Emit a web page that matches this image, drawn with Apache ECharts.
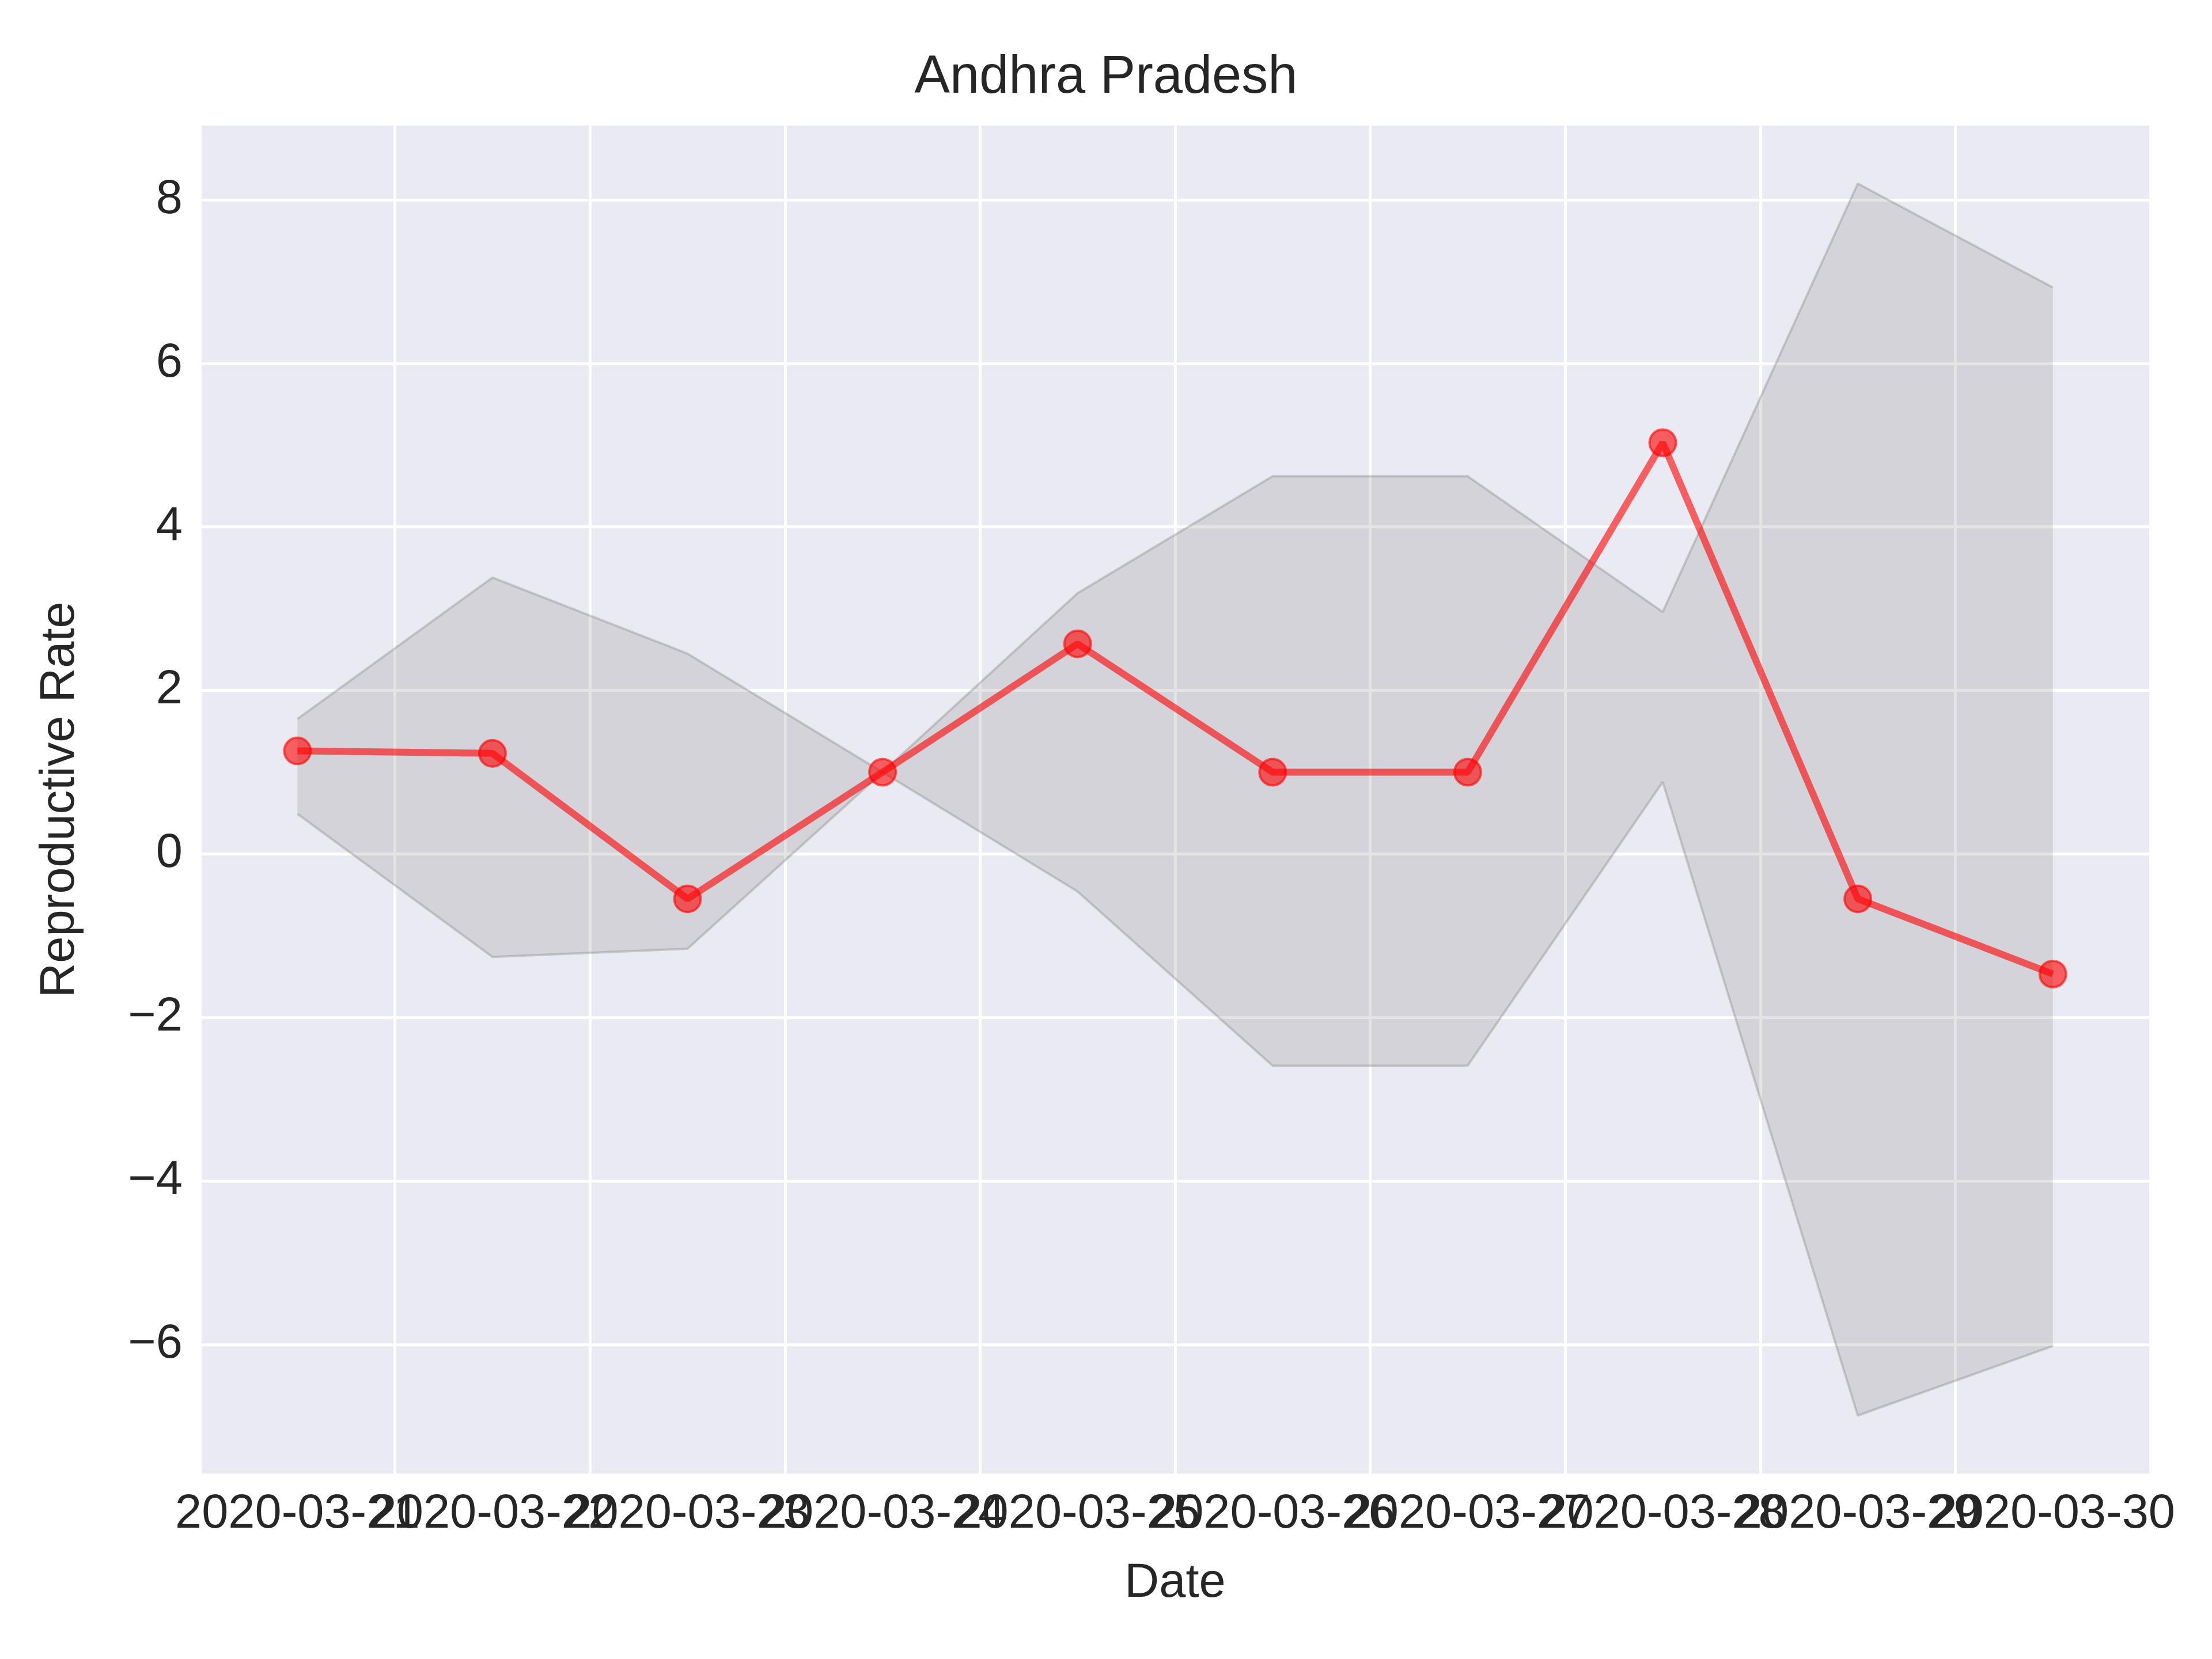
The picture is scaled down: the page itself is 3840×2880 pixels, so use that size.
<!DOCTYPE html>
<html>
<head>
<meta charset="utf-8">
<script src="https://cdn.jsdelivr.net/npm/echarts@6/dist/echarts.min.js"></script>
<style>html,body{margin:0;padding:0;background:#fff}#chart{width:3840px;height:2880px}</style>
</head>
<body>
<div id="chart"></div>
<script>
// 数据
const dates = ['2020-03-21', '2020-03-22', '2020-03-23', '2020-03-24', '2020-03-25',
    '2020-03-26', '2020-03-27', '2020-03-28', '2020-03-29', '2020-03-30'];
const rate = [1.26, 1.23, -0.55, 1.0, 2.57, 1.0, 1.0, 5.03, -0.55, -1.47];
const upper = [1.65, 3.38, 2.45, 1.0, 3.19, 4.62, 4.62, 2.96, 8.2, 6.93];
const lower = [0.49, -1.26, -1.16, 1.0, -0.46, -2.59, -2.59, 0.88, -6.87, -6.02];
const yTicks = [-6, -4, -2, 0, 2, 4, 6, 8];

const font = 'Arial, "Liberation Sans", sans-serif';
const txt = '#262626';

const chart = echarts.init(document.querySelector('#chart'));
chart.setOption({
    backgroundColor: '#fff',
    animation: false,
    title: {
        text: 'Andhra Pradesh',
        left: 'center',
        top: 85,
        textStyle: { fontSize: 92, fontWeight: 'normal', color: txt, fontFamily: font }
    },
    grid: { left: 347, right: 107, top: 218, bottom: 322, backgroundColor: '#eaeaf2', show: true, borderWidth: 0 },
    xAxis: {
        type: 'category',
        data: dates,
        boundaryGap: true,
        name: 'Date',
        nameLocation: 'middle',
        nameGap: 150,
        nameTextStyle: { fontSize: 83, color: txt, fontFamily: font },
        axisLine: { show: false },
        axisTick: { show: false, alignWithLabel: true },
        axisLabel: { interval: 0, fontSize: 83, color: txt, fontFamily: font, margin: 30 },
        splitLine: { show: true, interval: 0, lineStyle: { color: '#fff', width: 5 } }
    },
    yAxis: {
        type: 'value',
        min: -7.58,
        max: 8.91,
        name: 'Reproductive Rate',
        nameLocation: 'middle',
        nameGap: 200,
        nameTextStyle: { fontSize: 83, color: txt, fontFamily: font },
        axisLine: { show: false },
        axisTick: { show: false, customValues: yTicks },
        axisLabel: {
            customValues: yTicks,
            formatter: v => (v < 0 ? '\u2212' + Math.abs(v) : '' + v),
            fontSize: 83, color: txt, fontFamily: font, margin: 30
        },
        splitLine: { show: true, lineStyle: { color: '#fff', width: 5 } }
    },
    series: [
        {
            type: 'line',
            stack: 'band',
            stackStrategy: 'all',
            data: lower,
            symbol: 'none',
            lineStyle: { color: 'rgba(128,128,128,0.35)', width: 4 },
            z: 1
        },
        {
            type: 'line',
            stack: 'band',
            stackStrategy: 'all',
            data: upper.map((u, i) => u - lower[i]),
            symbol: 'none',
            lineStyle: { color: 'rgba(128,128,128,0.35)', width: 4 },
            areaStyle: { color: 'rgba(128,128,128,0.3)' },
            z: 1
        },
        {
            type: 'line',
            data: rate,
            symbol: 'circle',
            symbolSize: 46,
            lineStyle: { color: 'rgba(255,0,0,0.6)', width: 12 },
            itemStyle: { color: 'rgba(255,0,0,0.6)', borderColor: 'rgba(255,0,0,0.6)', borderWidth: 4 },
            z: 3
        }
    ]
});
</script>
</body>
</html>
